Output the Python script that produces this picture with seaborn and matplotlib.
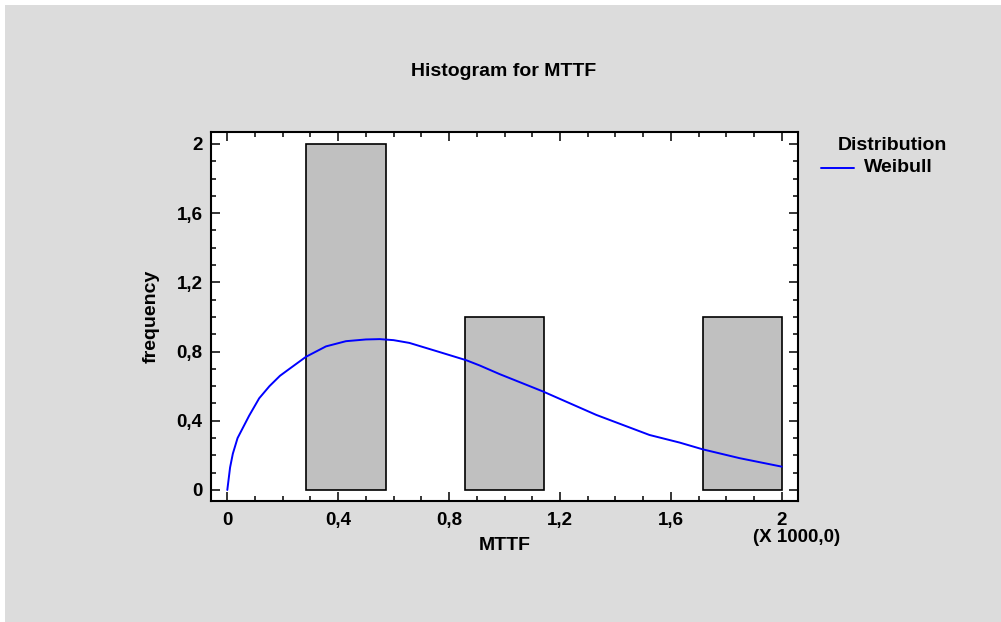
import matplotlib
matplotlib.use("Agg")
import matplotlib.pyplot as plt
import seaborn as sns
import numpy as np
from matplotlib.patches import Rectangle
from matplotlib.ticker import FixedLocator, MultipleLocator

# ---- data (x in thousands) ----
bin_edges = [0.0, 0.2857, 0.5714, 0.8571, 1.1429, 1.4286, 1.7143, 2.0]
bin_centers = [0.4286, 1.0, 1.8571]
bin_counts = [2, 1, 1]

weibull_x = [0.0, 0.01, 0.02, 0.037, 0.079, 0.115, 0.152, 0.19, 0.224, 0.284, 0.356, 0.428,
             0.5, 0.55, 0.6, 0.657, 0.76, 0.862, 0.91, 0.982, 1.138, 1.331, 1.523,
             1.632, 1.715, 1.848, 2.0]
weibull_y = [0.0, 0.13, 0.21, 0.30, 0.43, 0.53, 0.60, 0.66, 0.70, 0.77, 0.83, 0.86,
             0.87, 0.872, 0.866, 0.85, 0.80, 0.75, 0.72, 0.67, 0.57, 0.434, 0.318,
             0.274, 0.235, 0.184, 0.135]

x_ticks = [0, 0.4, 0.8, 1.2, 1.6, 2.0]
x_tick_labels = ["0", "0,4", "0,8", "1,2", "1,6", "2"]
y_ticks = [0, 0.4, 0.8, 1.2, 1.6, 2.0]
y_tick_labels = ["0", "0,4", "0,8", "1,2", "1,6", "2"]

sns.set_theme(style="white")
plt.rcParams["font.family"] = ["Liberation Sans", "DejaVu Sans"]
plt.rcParams["font.weight"] = "bold"
plt.rcParams["text.color"] = "black"
plt.rcParams["xtick.color"] = "black"
plt.rcParams["ytick.color"] = "black"
plt.rcParams["xtick.labelcolor"] = "black"
plt.rcParams["ytick.labelcolor"] = "black"

FS = 14

W, H = 1001, 622
fig = plt.figure(figsize=(W / 100, H / 100), dpi=100, facecolor="white")
fig.patches.append(Rectangle((5 / W, 0), 1 - 5 / W, 1 - 5 / H, transform=fig.transFigure,
                             facecolor="#dcdcdc", edgecolor="none", zorder=-10))

ax = fig.add_axes([211 / W, 1 - 501 / H, (798 - 211) / W, (501 - 132) / H])
ax.set_facecolor("white")

sns.histplot(x=bin_centers, weights=bin_counts, bins=bin_edges, ax=ax,
             color="#c0c0c0", edgecolor="black", linewidth=1.2, alpha=1.0)
for p in list(ax.patches):
    if p.get_height() == 0:
        p.remove()

sns.lineplot(x=weibull_x, y=weibull_y, ax=ax, color="#0000ff", linewidth=1.4,
             label="Weibull", legend=False)

ax.set_xlim(-0.0588, 2.0588)
ax.set_ylim(-0.0636, 2.069)

ax.xaxis.set_major_locator(FixedLocator(x_ticks))
ax.set_xticklabels(x_tick_labels)
ax.yaxis.set_major_locator(FixedLocator(y_ticks))
ax.set_yticklabels(y_tick_labels)
ax.xaxis.set_minor_locator(MultipleLocator(0.1))
ax.yaxis.set_minor_locator(MultipleLocator(0.1))

ax.tick_params(which="both", direction="in", top=True, right=True, bottom=True, left=True,
               color="black", width=1.1)
ax.tick_params(which="major", length=6.5)
ax.tick_params(which="minor", length=3.6)
ax.tick_params(axis="x", which="major", pad=8, labelsize=FS - 0.5, labelcolor="black")
ax.tick_params(axis="y", which="major", pad=6, labelsize=FS - 0.5, labelcolor="black")
for lab in ax.get_xticklabels() + ax.get_yticklabels():
    lab.set_fontweight("bold")

for s in ax.spines.values():
    s.set_visible(True)
    s.set_color("black")
    s.set_linewidth(1.5)

ax.set_xlabel("")
ax.set_ylabel("")
fig.text(505 / W, 1 - 545 / H, "MTTF", ha="center", va="center", fontsize=FS, fontweight="bold")
fig.text(151 / W, 1 - 316 / H, "frequency", ha="center", va="center", rotation=90,
         fontsize=FS, fontweight="bold")
fig.text(797 / W, 1 - 537 / H, "(X 1000,0)", ha="center", va="center", fontsize=FS - 0.5,
         fontweight="bold")
fig.text(504 / W, 1 - 72 / H, "Histogram for MTTF", ha="center", va="center", fontsize=FS,
         fontweight="bold")

# legend
fig.text(892 / W, 1 - 146 / H, "Distribution", ha="center", va="center", fontsize=FS, fontweight="bold")
fig.lines.append(plt.Line2D([821 / W, 854 / W], [1 - 168 / H, 1 - 168 / H], transform=fig.transFigure,
                            color="#0000ff", linewidth=1.4))
fig.text(864 / W, 1 - 168 / H, "Weibull", ha="left", va="center", fontsize=FS, fontweight="bold")

fig.savefig("out.png", dpi=100, facecolor=fig.get_facecolor())
